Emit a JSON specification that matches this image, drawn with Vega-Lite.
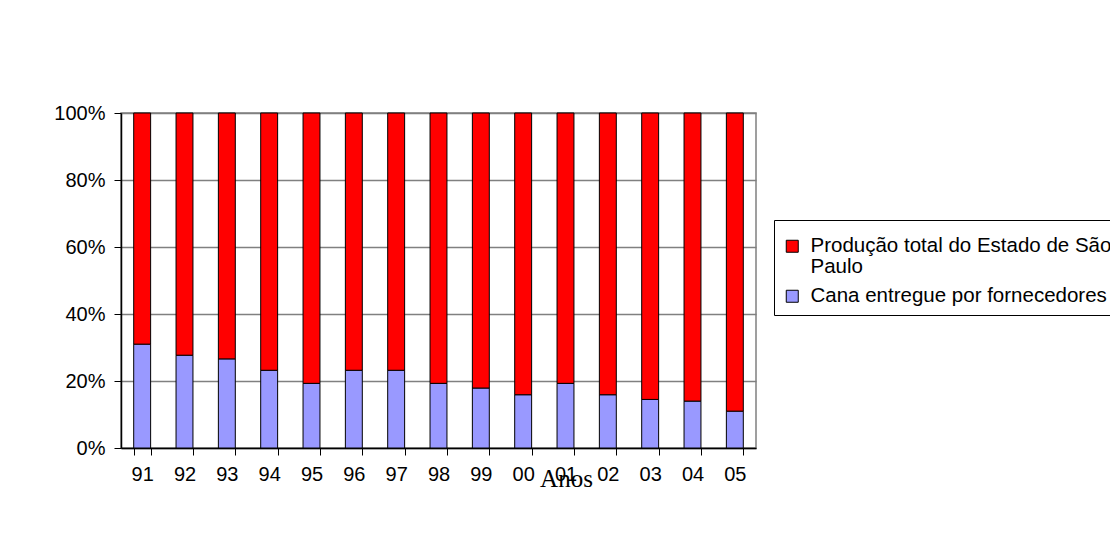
{
  "$schema": "https://vega.github.io/schema/vega-lite/v6.json",
  "width": 635,
  "height": 335,
  "autosize": {"type": "none"},
  "padding": {"left": 121, "top": 113, "right": 354, "bottom": 90},
  "background": "white",
  "config": {
    "view": {"stroke": "#808080", "strokeWidth": 1.5},
    "font": "Liberation Sans"
  },
  "data": {
    "values": [
      {"ano": "91", "serie": "Cana entregue por fornecedores", "valor": 31.0},
      {"ano": "91", "serie": "Produção total do Estado de São Paulo", "valor": 69.0},
      {"ano": "92", "serie": "Cana entregue por fornecedores", "valor": 27.7},
      {"ano": "92", "serie": "Produção total do Estado de São Paulo", "valor": 72.3},
      {"ano": "93", "serie": "Cana entregue por fornecedores", "valor": 26.6},
      {"ano": "93", "serie": "Produção total do Estado de São Paulo", "valor": 73.4},
      {"ano": "94", "serie": "Cana entregue por fornecedores", "valor": 23.2},
      {"ano": "94", "serie": "Produção total do Estado de São Paulo", "valor": 76.8},
      {"ano": "95", "serie": "Cana entregue por fornecedores", "valor": 19.3},
      {"ano": "95", "serie": "Produção total do Estado de São Paulo", "valor": 80.7},
      {"ano": "96", "serie": "Cana entregue por fornecedores", "valor": 23.2},
      {"ano": "96", "serie": "Produção total do Estado de São Paulo", "valor": 76.8},
      {"ano": "97", "serie": "Cana entregue por fornecedores", "valor": 23.2},
      {"ano": "97", "serie": "Produção total do Estado de São Paulo", "valor": 76.8},
      {"ano": "98", "serie": "Cana entregue por fornecedores", "valor": 19.3},
      {"ano": "98", "serie": "Produção total do Estado de São Paulo", "valor": 80.7},
      {"ano": "99", "serie": "Cana entregue por fornecedores", "valor": 17.9},
      {"ano": "99", "serie": "Produção total do Estado de São Paulo", "valor": 82.1},
      {"ano": "00", "serie": "Cana entregue por fornecedores", "valor": 15.9},
      {"ano": "00", "serie": "Produção total do Estado de São Paulo", "valor": 84.1},
      {"ano": "01", "serie": "Cana entregue por fornecedores", "valor": 19.3},
      {"ano": "01", "serie": "Produção total do Estado de São Paulo", "valor": 80.7},
      {"ano": "02", "serie": "Cana entregue por fornecedores", "valor": 15.9},
      {"ano": "02", "serie": "Produção total do Estado de São Paulo", "valor": 84.1},
      {"ano": "03", "serie": "Cana entregue por fornecedores", "valor": 14.5},
      {"ano": "03", "serie": "Produção total do Estado de São Paulo", "valor": 85.5},
      {"ano": "04", "serie": "Cana entregue por fornecedores", "valor": 14.0},
      {"ano": "04", "serie": "Produção total do Estado de São Paulo", "valor": 86.0},
      {"ano": "05", "serie": "Cana entregue por fornecedores", "valor": 11.0},
      {"ano": "05", "serie": "Produção total do Estado de São Paulo", "valor": 89.0}
    ]
  },
  "mark": {"type": "bar", "stroke": "black", "strokeWidth": 1},
  "encoding": {
    "x": {
      "field": "ano",
      "type": "ordinal",
      "sort": null,
      "scale": {"paddingInner": 0.6, "paddingOuter": 0.3},
      "axis": {
        "title": "Anos",
        "titleFont": "Liberation Serif",
        "titleFontSize": 25,
        "titleFontWeight": "normal",
        "titleColor": "black",
        "titleX": 445,
        "titleY": 38,
        "titleAlign": "center",
        "titleBaseline": "alphabetic",
        "labelAngle": 0,
        "labelFontSize": 20,
        "labelColor": "black",
        "labelPadding": 9,
        "tickBand": "extent",
        "tickSize": 7,
        "tickColor": "black",
        "domainColor": "black",
        "domainWidth": 1.5
      }
    },
    "y": {
      "field": "valor",
      "type": "quantitative",
      "stack": "normalize",
      "scale": {"domain": [0, 1]},
      "axis": {
        "title": null,
        "format": "%",
        "values": [0, 0.2, 0.4, 0.6, 0.8, 1],
        "labelFontSize": 20,
        "labelColor": "black",
        "labelPadding": 9,
        "tickSize": 7,
        "tickColor": "black",
        "domainColor": "black",
        "domainWidth": 1.5,
        "grid": true,
        "gridColor": "#808080",
        "gridWidth": 1.5
      }
    },
    "color": {
      "field": "serie",
      "type": "nominal",
      "scale": {
        "domain": ["Produção total do Estado de São Paulo", "Cana entregue por fornecedores"],
        "range": ["#FF0000", "#9999FF"]
      },
      "legend": {
        "title": " ",
        "titleFontSize": 6,
        "titlePadding": 2,
        "orient": "none",
        "legendX": 653,
        "legendY": 107,
        "strokeColor": "black",
        "padding": 8,
        "symbolType": "square",
        "symbolSize": 144,
        "symbolStrokeColor": "black",
        "symbolStrokeWidth": 1,
        "symbolOpacity": 1,
        "labelFontSize": 20.5,
        "labelColor": "black",
        "labelOffset": 8,
        "labelLimit": 1000,
        "rowPadding": 8,
        "labelExpr": "datum.label == 'Produção total do Estado de São Paulo' ? ['Produção total do Estado de São', 'Paulo'] : datum.label",
        "encode": {"labels": {"update": {"lineHeight": {"value": 21}}}}
      }
    },
    "order": {"field": "serie", "sort": "ascending"}
  }
}
